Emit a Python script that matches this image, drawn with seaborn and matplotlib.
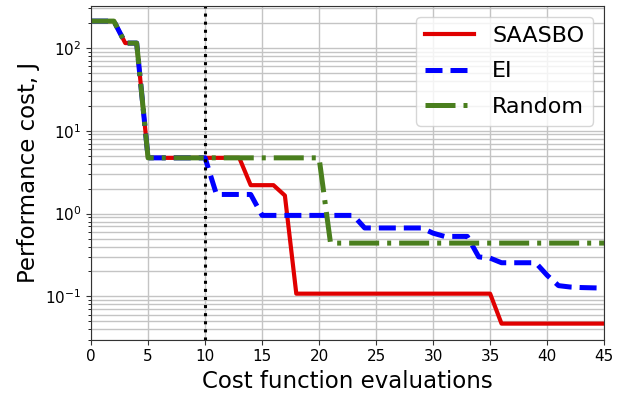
import numpy as np
import pandas as pd
import seaborn as sn
import matplotlib.pyplot as plt

# evaluations and best performance cost so far
evals = list(range(46))
saasbo = [210, 210, 210, 114, 114, 4.7, 4.7, 4.7, 4.7, 4.7, 4.7, 4.7, 4.7, 4.7,
          2.2, 2.2, 2.2, 1.65, 0.108, 0.108, 0.108, 0.108, 0.108, 0.108, 0.108,
          0.108, 0.108, 0.108, 0.108, 0.108, 0.108, 0.108, 0.108, 0.108, 0.108,
          0.108, 0.047, 0.047, 0.047, 0.047, 0.047, 0.047, 0.047, 0.047, 0.047, 0.047]
ei = [210, 210, 210, 114, 114, 4.7, 4.7, 4.7, 4.7, 4.7, 4.7, 1.7, 1.7, 1.7,
      1.7, 0.95, 0.95, 0.95, 0.95, 0.95, 0.95, 0.95, 0.95, 0.95, 0.67, 0.67,
      0.67, 0.67, 0.67, 0.67, 0.58, 0.53, 0.53, 0.53, 0.30, 0.29, 0.255, 0.255,
      0.255, 0.255, 0.18, 0.135, 0.13, 0.128, 0.127, 0.126]
rand = [210, 210, 210, 114, 114, 4.7, 4.7, 4.7, 4.7, 4.7, 4.7, 4.7, 4.7, 4.7,
        4.7, 4.7, 4.7, 4.7, 4.7, 4.7, 4.7, 0.44, 0.44, 0.44, 0.44, 0.44, 0.44,
        0.44, 0.44, 0.44, 0.44, 0.44, 0.44, 0.44, 0.44, 0.44, 0.44, 0.44, 0.44,
        0.44, 0.44, 0.44, 0.44, 0.44, 0.44, 0.44]
n_init = 10

df = pd.DataFrame({'eval': evals, 'SAASBO': saasbo, 'EI': ei, 'Random': rand})

fig, ax = plt.subplots(figsize=(6.28, 3.96), dpi=100)
fig.subplots_adjust(left=0.145, right=0.962, top=0.985, bottom=0.142)

sn.lineplot(data=df, x='eval', y='SAASBO', ax=ax, color='#e00000', lw=3.0, label='SAASBO')
sn.lineplot(data=df, x='eval', y='EI', ax=ax, color='#0000ff', lw=3.6, label='EI',
            linestyle=(0, (3.4, 1.6)))
sn.lineplot(data=df, x='eval', y='Random', ax=ax, color='#4a7f1e', lw=3.6, label='Random',
            linestyle=(0, (6, 1.6, 0.8, 1.6)))
ax.axvline(n_init, color='black', ls=':', lw=2.2)

ax.set_yscale('log')
ax.set_xlim(0, 45)
ax.set_ylim(0.03, 320)
ax.set_xticks(range(0, 46, 5))
ax.grid(True, which='major', color='#c4c4c4', lw=1)
ax.grid(True, which='minor', axis='y', color='#c4c4c4', lw=1)
ax.set_axisbelow(True)
for s in ax.spines.values():
    s.set_color('#333333')
ax.tick_params(labelsize=11, colors='#333333', labelcolor='black')
ax.set_xlabel('Cost function evaluations', fontsize=16.5)
ax.set_ylabel('Performance cost, J', fontsize=16.5)
ax.legend(loc='upper right', fontsize=16, handlelength=2.2, labelspacing=0.7)
plt.savefig('out.png', dpi=100)
